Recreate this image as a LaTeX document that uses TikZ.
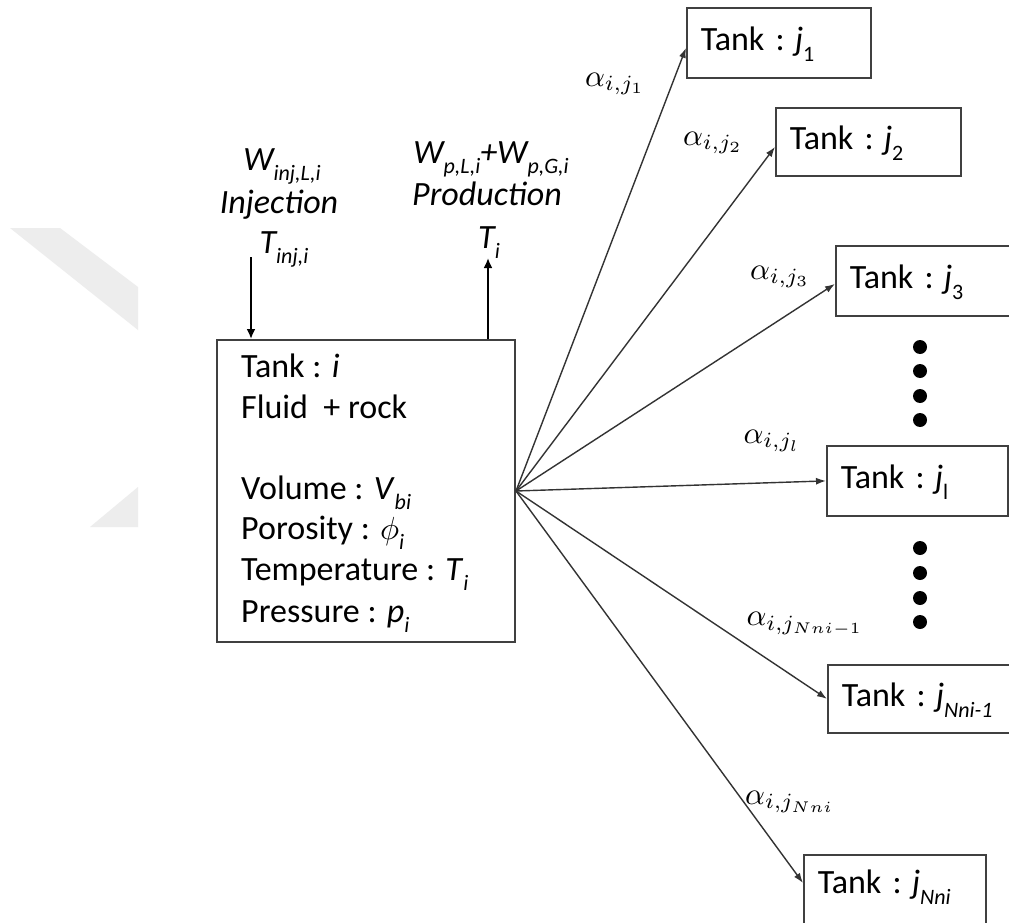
\documentclass[tikz,border=0pt]{standalone}
\usepackage{graphicx}
\usepackage{fontspec}
\setmainfont{Carlito}
\usetikzlibrary{arrows.meta}
\newcommand\lo[1]{\raisebox{-0.3em}{\fontsize{22}{24}\selectfont #1}}
\newcommand\tj[1]{Tank :\hspace{0.3em}\textit{j}\lo{#1}}
\newcommand\mymath[2]{\scalebox{#1}{\fontsize{10}{12}\selectfont$#2$}}
\tikzset{
 txt/.style={inner sep=0pt, anchor=base west, font=\fontsize{34}{40}\selectfont},
 toplab/.style={inner sep=0pt, anchor=base, font=\fontsize{34}{40}\selectfont\itshape},
 tankbox/.style={draw=black!75, line width=1.8pt, fill=white, inner ysep=0pt, inner xsep=14pt,
   minimum height=70pt, text height=28pt, text depth=12pt, align=left, anchor=north west,
   font=\fontsize{34}{40}\selectfont},
 mainbox/.style={draw=black!75, line width=2pt, minimum width=298pt, minimum height=302pt, inner sep=0pt},
 fan/.style={draw=black!80, line width=1.4pt, -{Latex[length=10pt,width=7pt]}},
 flow/.style={draw=black, line width=2.6pt, -{Latex[length=10pt,width=9pt]}},
 alab/.style={inner sep=0pt},
 dot/.style={circle, fill=black, inner sep=0pt, minimum size=14pt},
}
\begin{document}
\begin{tikzpicture}[x=1pt,y=-1pt]
\clip (0,0) rectangle (1009,923);
\fill[white] (0,0) rectangle (1009,923);
% watermark
\fill[black!7] (10,228) -- (60,228) -- (138,287) -- (138,330) -- cycle;
\fill[black!7] (138,487) -- (90,527) -- (138,527) -- cycle;

% main tank
\node[mainbox] (main) at (366,491) {};
\node[txt] (l1) at (241,377) {Tank : \textit{i}};
\node[txt] (l2) at (241,418) {Fluid~ + rock};
\node[txt] (l3) at (241,499) {Volume : \textit{V}\lo{\textit{bi}}};
\node[txt] (l4) at (241,539) {Porosity : \mymath{3.2}{\phi}\lo{\textit{i}}};
\node[txt] (l5) at (241,580) {Temperature : \textit{T}\lo{\textit{i}}};
\node[txt] (l6) at (241,622) {Pressure : \textit{p}\lo{\textit{i}}};

% injection / production
\node[toplab] (w1) at (282,170) {W\lo{inj,L,i}};
\node[toplab] (inj) at (279,213) {Injection};
\node[toplab] (tinj) at (284,253) {T\lo{inj,i}};
\node[toplab] (wp) at (491,163) {W\lo{p,L,i}+W\lo{p,G,i}};
\node[toplab] (prod) at (487,205) {Production};
\node[toplab] (tp) at (489,248) {T\lo{i}};
\coordinate (injtop) at (251,257);
\coordinate (prodtop) at (488,258);
\draw[flow] (injtop) -- (main.north -| injtop);
\draw[flow] (main.north -| prodtop) -- (prodtop);

% tanks
\node[tankbox, text width=156pt] (j1) at (686,7) {\tj{1}};
\node[tankbox, text width=157pt, minimum height=68pt] (j2) at (775,107) {\tj{2}};
\node[tankbox, text width=172pt] (j3) at (835,245) {\tj{3}};
\node[tankbox, text width=153pt] (jl) at (826,445) {\tj{l}};
\node[tankbox, text width=172pt, minimum height=68pt] (jN1) at (827,664) {\tj{\textit{Nni-1}}};
\node[tankbox, text width=154pt, minimum height=90pt, text depth=40pt] (jN) at (803,854) {\tj{\textit{Nni}}};

% fan connectors
\draw[fan] (main.east) -- ([yshift=-5pt]j1.west);
\draw[fan] (main.east) -- ([yshift=-5pt]j2.west);
\draw[fan] (main.east) -- ([yshift=-3pt]j3.west);
\draw[fan] (main.east) -- (jl.west);
\draw[fan] (main.east) -- (jN1.west);
\draw[fan] (main.east) -- ([yshift=-29pt]jN.north west);

% alpha labels
\node[alab] (a1) at (615,84) {\mymath{3.1}{\alpha_{i,j_1}}};
\node[alab] (a2) at (713,143) {\mymath{3.1}{\alpha_{i,j_2}}};
\node[alab] (a3) at (780,277) {\mymath{3.1}{\alpha_{i,j_3}}};
\node[alab] (al) at (772,441) {\mymath{3.1}{\alpha_{i,j_l}}};
\node[alab] (aN1) at (805,624) {\mymath{3.1}{\alpha_{i,j_{Nni-1}}}};
\node[alab] (aN) at (790,802) {\mymath{3.1}{\alpha_{i,j_{Nni}}}};

% dots
\foreach \y [count=\k] in {347,371,396,420} \node[dot] (du\k) at (920,\y) {};
\foreach \y [count=\k] in {548,573,598,622} \node[dot] (dl\k) at (920,\y) {};
\end{tikzpicture}
\end{document}
